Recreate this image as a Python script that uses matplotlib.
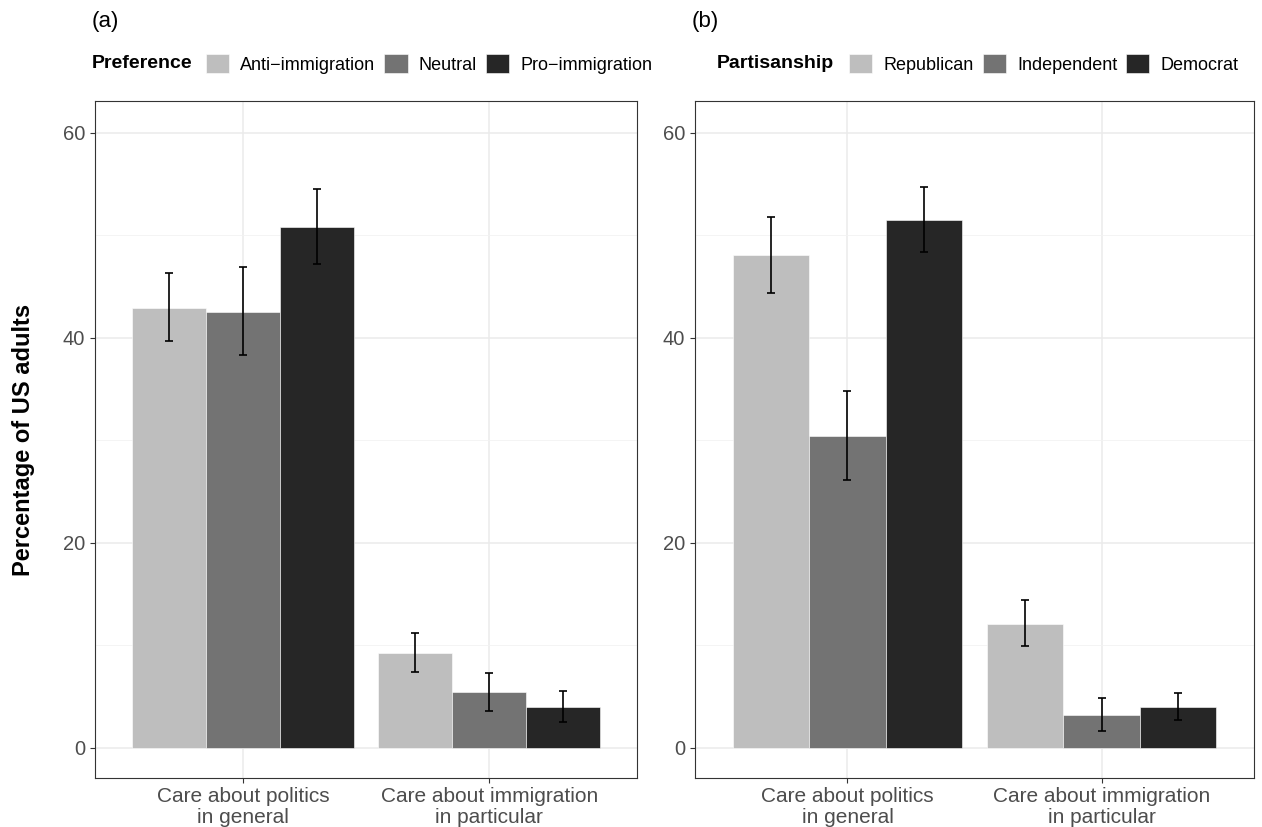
import numpy as np
import matplotlib
matplotlib.use("Agg")
import matplotlib.pyplot as plt
from matplotlib.patches import Patch
from matplotlib.ticker import MultipleLocator

plt.rcParams['font.family'] = ['Liberation Sans', 'DejaVu Sans']

categories = ["Care about politics\nin general", "Care about immigration\nin particular"]

# panel (a): immigration preference
pref_groups = ["Anti\u2212immigration", "Neutral", "Pro\u2212immigration"]
pref_vals = [[42.9, 9.2], [42.5, 5.4], [50.8, 4.0]]
pref_lo = [[39.7, 7.4], [38.3, 3.55], [47.2, 2.55]]
pref_hi = [[46.3, 11.2], [46.9, 7.3], [54.5, 5.5]]

# panel (b): partisanship
party_groups = ["Republican", "Independent", "Democrat"]
party_vals = [[48.1, 12.1], [30.4, 3.2], [51.5, 4.0]]
party_lo = [[44.4, 9.9], [26.1, 1.6], [48.4, 2.7]]
party_hi = [[51.8, 14.4], [34.8, 4.9], [54.7, 5.3]]

colors = ["#bebebe", "#737373", "#262626"]

W, H = 1262, 827
fig = plt.figure(figsize=(W / 100, H / 100), dpi=100)


def px_axes(l, r, t, b):
    return fig.add_axes([l / W, 1 - b / H, (r - l) / W, (b - t) / H])


def panel(ax, groups, vals, lo, hi):
    x = np.arange(1, len(categories) + 1)
    bw = 0.3
    for j, g in enumerate(groups):
        xs = x + (j - 1) * bw
        v = np.array(vals[j])
        err = [v - np.array(lo[j]), np.array(hi[j]) - v]
        ax.bar(xs, v, width=bw, color=colors[j], edgecolor="white", linewidth=0.4, zorder=2)
        ax.errorbar(xs, v, yerr=err, fmt="none", ecolor="black", elinewidth=1.2,
                    capsize=3.0, capthick=1.2, zorder=3)
    ax.set_xlim(0.4, 2.6)
    ax.set_ylim(-2.95, 63.1)
    ax.set_xticks(x)
    ax.set_xticklabels(categories, fontsize=15, color="#4d4d4d", linespacing=1.15)
    ax.yaxis.set_major_locator(MultipleLocator(20))
    ax.yaxis.set_minor_locator(MultipleLocator(10))
    ax.tick_params(axis="y", labelsize=14.5, labelcolor="#4d4d4d", color="#333333", length=3.5)
    ax.tick_params(axis="y", which="minor", length=0)
    ax.tick_params(axis="x", color="#333333", length=3.5, pad=3)
    ax.grid(True, which="major", color="#ebebeb", linewidth=1.1, zorder=0)
    ax.grid(True, which="minor", axis="y", color="#f2f2f2", linewidth=0.6, zorder=0)
    ax.set_axisbelow(True)
    for s in ax.spines.values():
        s.set_color("#333333")
        s.set_linewidth(0.8)


ax_a = px_axes(95, 637, 101, 778)
panel(ax_a, pref_groups, pref_vals, pref_lo, pref_hi)
ax_a.set_ylabel("Percentage of US adults", fontsize=17, fontweight="bold")
ax_a.yaxis.set_label_coords(-0.111, 0.5)

ax_b = px_axes(695, 1254, 101, 778)
panel(ax_b, party_groups, party_vals, party_lo, party_hi)

fig.text(92 / W, 1 - 22 / H, "(a)", fontsize=16, va="center", ha="left")
fig.text(692 / W, 1 - 22 / H, "(b)", fontsize=16, va="center", ha="left")


def top_legend(title, groups, x_title, x_leg):
    fig.text(x_title / W, 1 - 64 / H, title, fontsize=14, fontweight="bold", va="center", ha="left")
    handles = [Patch(facecolor=c, edgecolor="white", linewidth=0.4) for c in colors]
    fig.legend(handles, groups, loc="center left", bbox_to_anchor=(x_leg / W, 1 - 64 / H),
               ncol=3, frameon=False, fontsize=13, handlelength=1.28, handleheight=1.22,
               handletextpad=0.62, columnspacing=0.5, borderpad=0, borderaxespad=0)


top_legend("Preference", pref_groups, 92, 206)
top_legend("Partisanship", party_groups, 717, 849)

fig.savefig("out.png", dpi=100)
